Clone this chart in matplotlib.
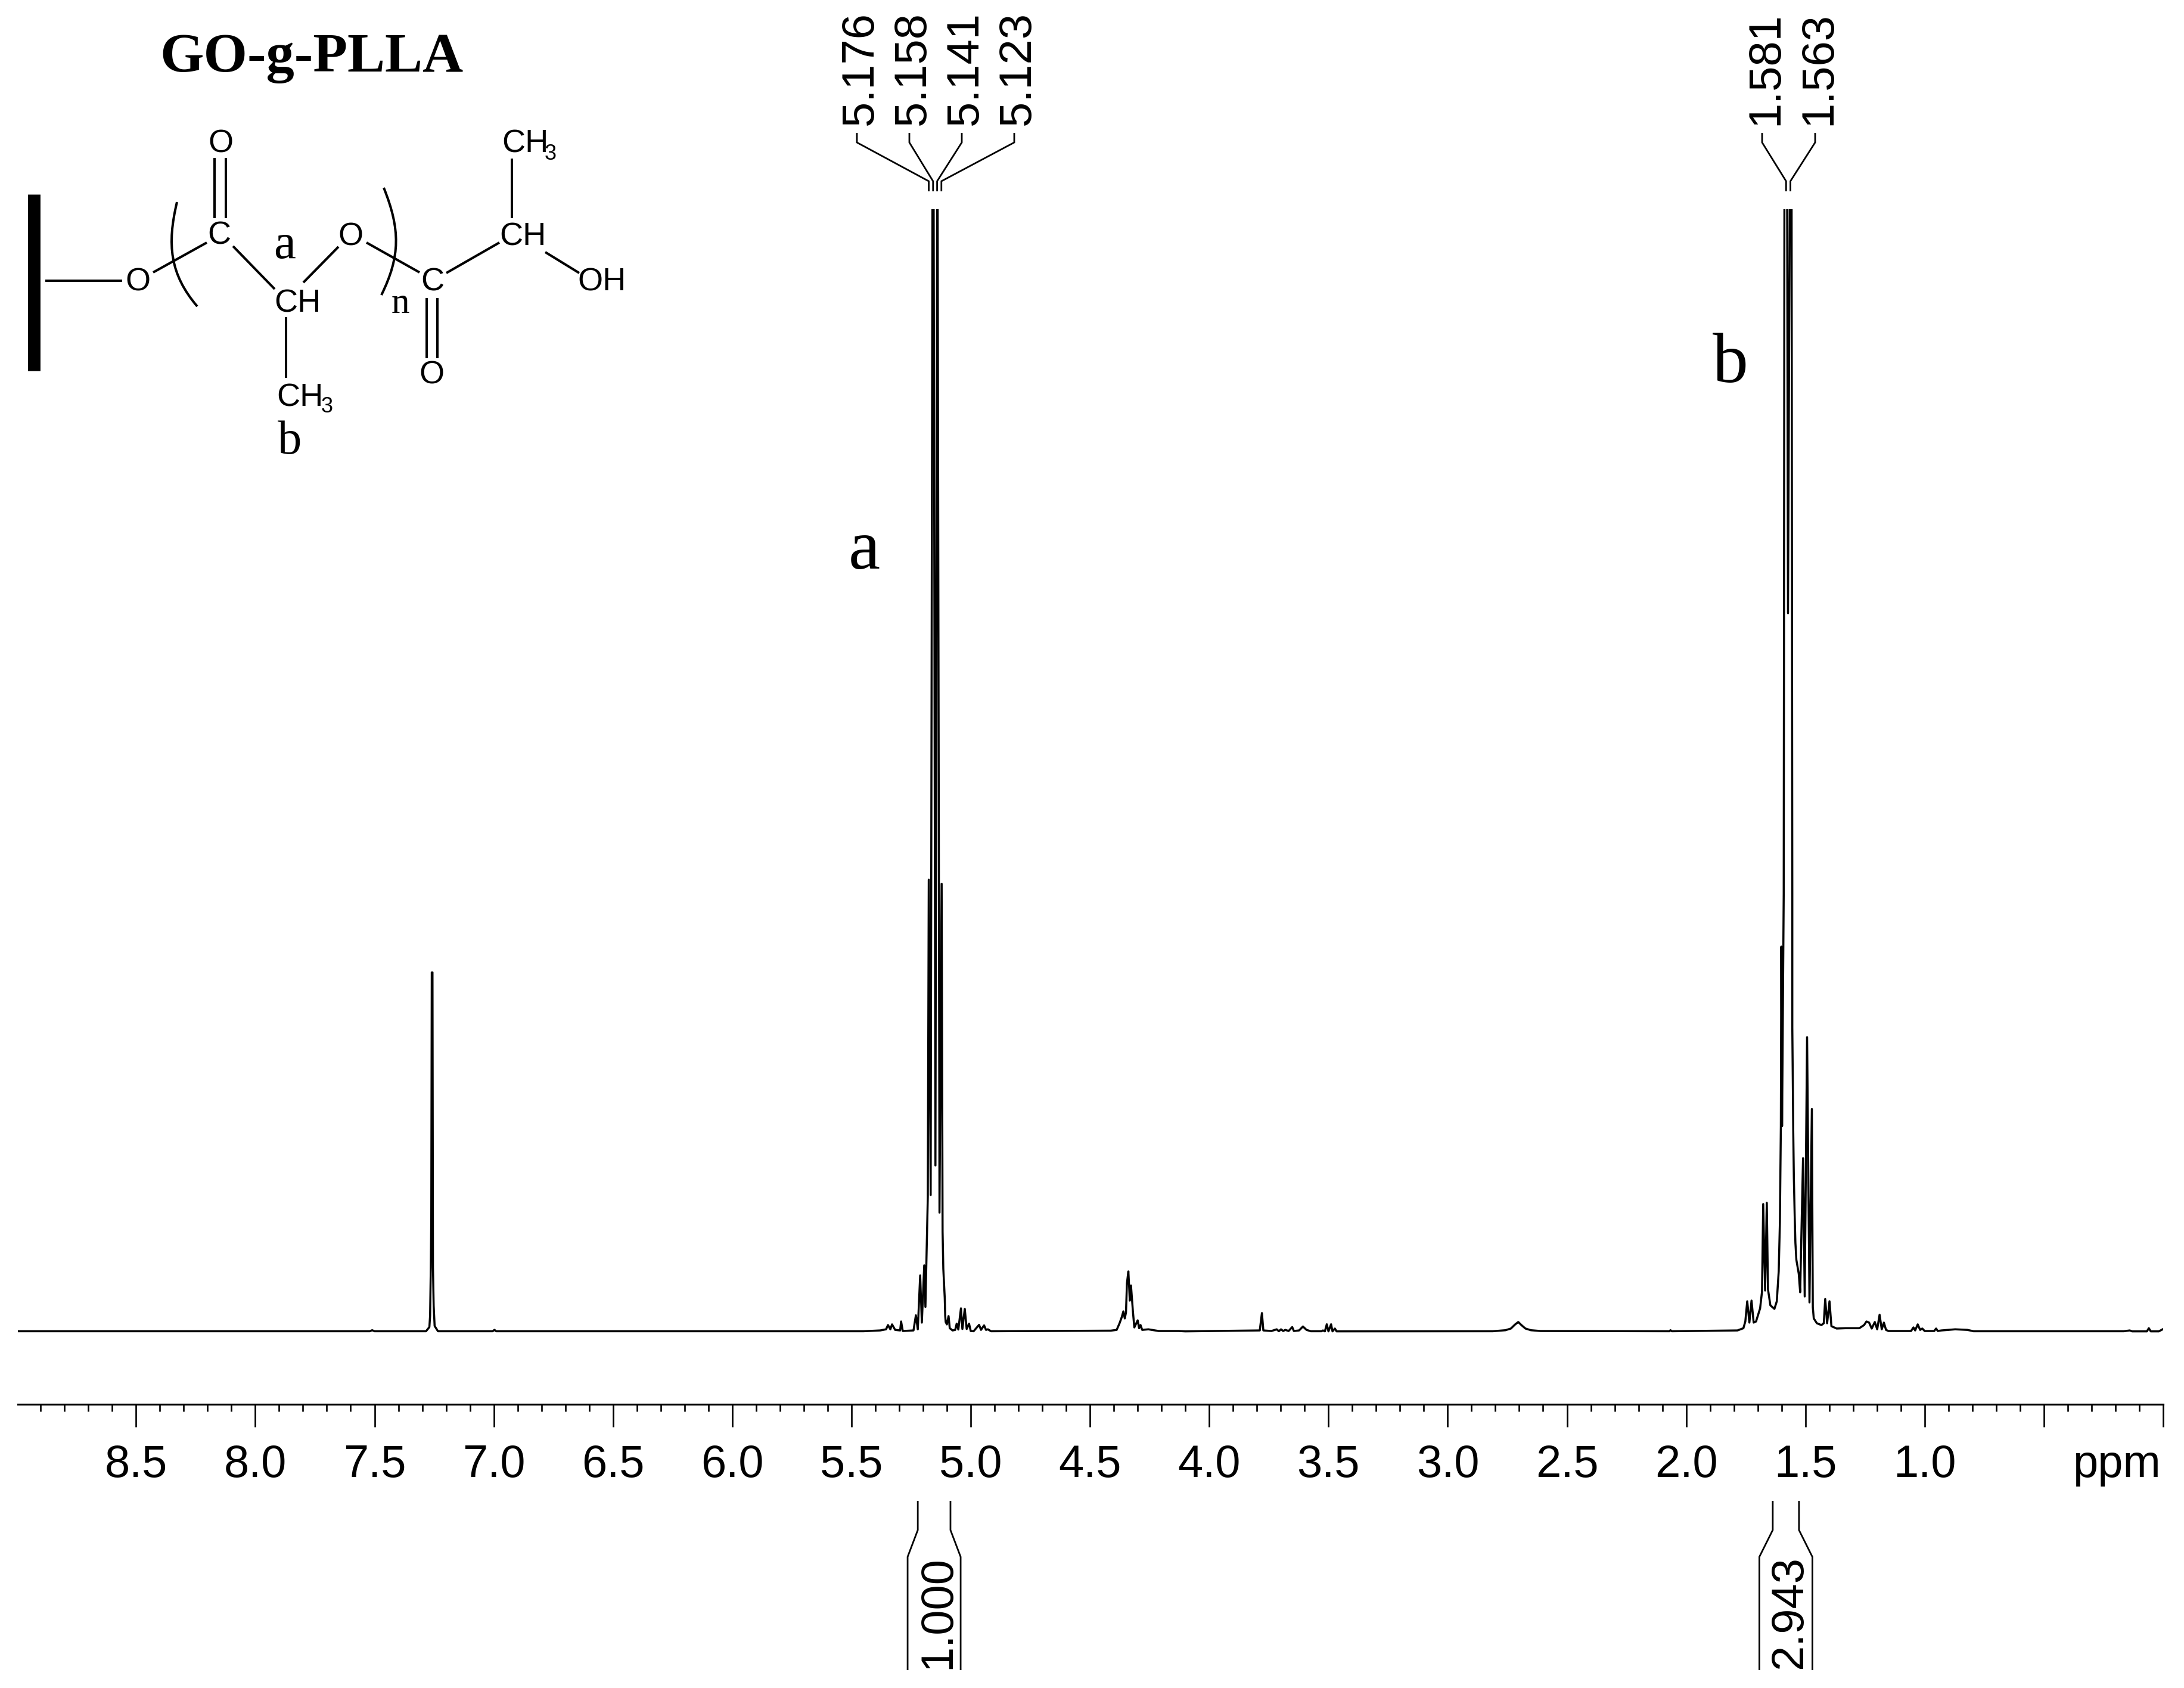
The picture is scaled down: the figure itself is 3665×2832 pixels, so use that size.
import matplotlib
matplotlib.use("Agg")
import matplotlib.pyplot as plt
import numpy as np
from matplotlib.patches import PathPatch
from matplotlib.path import Path
from matplotlib.ticker import MultipleLocator

W, H = 3666, 2832

# spectrum, (ppm, intensity), 1.0 = top of the plot
left_baseline = [(8.9955, 0.0003), (7.52, 0.0003), (7.51, 0.0012), (7.50, 0.0003), (7.284, 0.0003),
                 (7.270, 0.004), (7.267, 0.014), (7.264, 0.057), (7.262, 0.10), (7.260, 0.320),
                 (7.257, 0.320), (7.255, 0.057), (7.252, 0.023), (7.248, 0.005), (7.234, 0.0003),
                 (7.005, 0.0003), (6.997, 0.0015), (6.99, 0.0003), (5.45, 0.0003), (5.38, 0.001), (5.355, 0.002)]
methine = [(5.347, 0.0058), (5.337, 0.002), (5.330, 0.0064), (5.317, 0.0015), (5.296, 0.001),
           (5.292, 0.009), (5.285, 0.0005), (5.24, 0.001), (5.230, 0.0145), (5.222, 0.002),
           (5.212, 0.050), (5.205, 0.008), (5.195, 0.059), (5.190, 0.022), (5.185, 0.071),
           (5.180, 0.12), (5.178, 0.263), (5.176, 0.4026), (5.168, 0.1216), (5.158, 1.3),
           (5.148, 0.148), (5.140, 1.15), (5.131, 0.106), (5.122, 0.399), (5.120, 0.253),
           (5.118, 0.089), (5.115, 0.056), (5.109, 0.030), (5.107, 0.014), (5.105, 0.0085),
           (5.100, 0.0064), (5.093, 0.0138), (5.088, 0.003), (5.076, 0.001), (5.065, 0.0015),
           (5.059, 0.007), (5.052, 0.0018), (5.041, 0.0207), (5.035, 0.0023), (5.025, 0.0202),
           (5.017, 0.0023), (5.007, 0.007), (5.000, 0.0005), (4.988, 0.0003), (4.965, 0.006),
           (4.957, 0.0015), (4.944, 0.0055), (4.936, 0.0015), (4.928, 0.002), (4.915, 0.0003)]
end_group = [(4.413, 0.0008), (4.388, 0.0015), (4.376, 0.0074), (4.367, 0.0127), (4.360, 0.018),
             (4.354, 0.0117), (4.349, 0.017), (4.345, 0.043), (4.339, 0.0536), (4.333, 0.0276),
             (4.328, 0.041), (4.320, 0.018), (4.314, 0.0037), (4.300, 0.010), (4.294, 0.003),
             (4.288, 0.0058), (4.281, 0.0015), (4.255, 0.002), (4.212, 0.0005), (4.156, 0.0005),
             (4.128, 0.0005), (4.10, 0.0002)]
mid_region = [(3.788, 0.001), (3.779, 0.0165), (3.773, 0.001), (3.739, 0.0005), (3.717, 0.002),
              (3.708, 0.0003), (3.699, 0.002), (3.690, 0.0005), (3.681, 0.0015), (3.667, 0.0005),
              (3.652, 0.004), (3.645, 0.0005), (3.623, 0.001), (3.607, 0.0045), (3.592, 0.0015),
              (3.574, 0.0003), (3.529, 0.0003), (3.523, 0.001), (3.515, 0.0002), (3.507, 0.0065),
              (3.500, 0.0002), (3.489, 0.0065), (3.483, 0.0002), (3.473, 0.0027), (3.466, 0.0002),
              (2.811, 0.0003), (2.758, 0.0012), (2.735, 0.0027), (2.717, 0.0064), (2.704, 0.0085),
              (2.691, 0.0058), (2.674, 0.0027), (2.651, 0.0012), (2.611, 0.0005), (2.07, 0.0003),
              (2.066, 0.0012), (2.06, 0.0003)]
methyl = [(1.785, 0.001), (1.760, 0.003), (1.752, 0.009), (1.744, 0.027), (1.735, 0.008),
          (1.726, 0.0276), (1.717, 0.008), (1.707, 0.009), (1.690, 0.0207), (1.682, 0.0356),
          (1.677, 0.1136), (1.669, 0.0366), (1.662, 0.1147), (1.657, 0.0377), (1.647, 0.0234),
          (1.630, 0.0202), (1.620, 0.027), (1.612, 0.0536), (1.607, 0.0977), (1.603, 0.183),
          (1.601, 0.343), (1.598, 0.183), (1.591, 0.39), (1.588, 1.02), (1.5767, 1.02), (1.573, 0.64),
          (1.5655, 1.02), (1.558, 1.02), (1.555, 0.39), (1.555, 0.271), (1.551, 0.178), (1.5485, 0.137),
          (1.545, 0.103), (1.542, 0.079), (1.538, 0.064), (1.528, 0.0515), (1.522, 0.035),
          (1.510, 0.1545), (1.503, 0.0313), (1.493, 0.2623), (1.483, 0.026), (1.473, 0.1983),
          (1.469, 0.0217), (1.465, 0.0117), (1.452, 0.0074), (1.433, 0.0058), (1.423, 0.0074),
          (1.417, 0.029), (1.409, 0.0074), (1.399, 0.027), (1.391, 0.0048), (1.369, 0.0027),
          (1.332, 0.003), (1.274, 0.003), (1.254, 0.0058), (1.244, 0.009), (1.233, 0.008),
          (1.222, 0.0027), (1.209, 0.0085), (1.199, 0.002), (1.189, 0.015), (1.180, 0.002),
          (1.171, 0.008), (1.162, 0.0015), (1.152, 0.0005), (1.057, 0.0005), (1.047, 0.0037),
          (1.040, 0.001), (1.029, 0.0064), (1.019, 0.0015), (1.010, 0.0027), (1.000, 0.0005),
          (0.960, 0.0005), (0.952, 0.0027), (0.945, 0.0005), (0.930, 0.001), (0.872, 0.002),
          (0.821, 0.0015), (0.795, 0.0003), (0.165, 0.0003), (0.140, 0.001), (0.130, 0.0002),
          (0.068, 0.0002), (0.060, 0.003), (0.052, 0.0002), (0.018, 0.0002), (0.002, 0.002)]

major_ticks = [8.5, 8.0, 7.5, 7.0, 6.5, 6.0, 5.5, 5.0, 4.5, 4.0, 3.5, 3.0, 2.5, 2.0, 1.5, 1.0, 0.5, 0.0]
tick_labels = ["8.5", "8.0", "7.5", "7.0", "6.5", "6.0", "5.5", "5.0", "4.5", "4.0", "3.5", "3.0",
               "2.5", "2.0", "1.5", "1.0", "", ""]

# peak picks and integrals
peaks_a = [5.176, 5.158, 5.141, 5.123]
peaks_b = [1.581, 1.563]
integrals = [(5.222, 5.085, "1.000"), (1.637, 1.527, "2.943")]

SANS = "Liberation Sans"
SERIF = "Liberation Serif"
TICK_SIZE = 54.6

X_RIGHT, PX_PER_PPM = 3630, 400.2
Y_BASE, Y_TOP, Y_AXIS = 2234, 351, 2356


def ppm_x(ppm):
    return X_RIGHT - PX_PER_PPM * ppm


fig = plt.figure(figsize=(W / 100, H / 100), dpi=100, facecolor="white")

# spectrum with its ppm axis
ax = fig.add_axes([30 / W, 1 - Y_AXIS / H, (X_RIGHT - 30) / W, (Y_AXIS - Y_TOP) / H])
trace = np.array(left_baseline + methine + end_group + mid_region + methyl)
ax.plot(trace[:, 0], trace[:, 1], color="black", lw=2.5, solid_joinstyle="round")
ax.set_xlim((X_RIGHT - 30) / PX_PER_PPM, 0)
ax.set_ylim(-(Y_AXIS - Y_BASE) / (Y_BASE - Y_TOP), 1)
ax.patch.set_alpha(0)
for side in ["top", "left", "right"]:
    ax.spines[side].set_visible(False)
ax.spines["bottom"].set_linewidth(2.3)
ax.yaxis.set_visible(False)
ax.set_xticks(major_ticks)
ax.set_xticklabels(tick_labels, fontsize=TICK_SIZE, family=SANS)
ax.xaxis.set_minor_locator(MultipleLocator(0.1))
ax.tick_params(axis="x", which="major", direction="out", length=27.4, width=1.9, pad=21)
ax.tick_params(axis="x", which="minor", direction="out", length=8.6, width=1.9)

# everything else is placed in picture pixels
over = fig.add_axes([0, 0, 1, 1])
over.set_xlim(0, W)
over.set_ylim(H, 0)
over.axis("off")


def line(xs, ys, lw=2.0):
    over.plot(xs, ys, color="black", lw=lw, solid_capstyle="butt", solid_joinstyle="miter")


def label(x, y, s, size=39, family=SANS, **kw):
    kw.setdefault("ha", "center")
    kw.setdefault("va", "center")
    over.text(x, y, s, fontsize=size, family=family, color="black", **kw)


over.text(3626, 2478, "ppm", fontsize=TICK_SIZE, family=SANS, ha="right", va="baseline")

# peak pick labels and leaders
for picks, label_x in [(peaks_a, [1438, 1526, 1614, 1702]), (peaks_b, [2957, 3046])]:
    for ppm, lx in zip(picks, label_x):
        over.text(lx + 7, 210, f"{ppm:.3f}", fontsize=TICK_SIZE, family=SANS, rotation=90,
                  ha="center", va="bottom")
        line([lx, lx, ppm_x(ppm), ppm_x(ppm)], [223, 239, 304, 321])

# integrals
for start, end, text in integrals:
    x0, x1 = ppm_x(start), ppm_x(end)
    mid = (x0 + x1) / 2
    line([x0, x0, mid - 44.5, mid - 44.5], [2518, 2567, 2612, 2802])
    line([x1, x1, mid + 44.5, mid + 44.5], [2518, 2567, 2612, 2802])
    over.text(mid + 7, 2705, text, fontsize=TICK_SIZE, family=SANS, rotation=90, ha="center", va="center")

# big assignment letters
label(1450, 925, "a", size=86, family=SERIF)
label(2904, 612, "b", size=86, family=SERIF)

# structure drawing
label(523, 97, "GO-g-PLLA", size=68, family=SERIF, fontweight="bold")
line([57.5, 57.5], [326, 622], lw=15)
line([76, 205.5], [471, 471], lw=2.9)
for xs, ys in [([257, 347], [457, 407]), ([391, 461], [413, 485]), ([509, 568], [474, 414]),
               ([615, 704], [407, 457]), ([749, 838], [458, 407]), ([915, 972], [423, 458]),
               ([859, 859], [266, 366]), ([480.5, 480.5], [532, 634]),
               ([360, 360], [265, 366]), ([379.5, 379.5], [265, 366]),
               ([716, 716], [500, 601]), ([734.5, 734.5], [500, 601])]:
    line(xs, ys, lw=2.9)
codes = [Path.MOVETO, Path.CURVE4, Path.CURVE4, Path.CURVE4]
for verts in [[(297, 339), (280, 410), (285, 460), (331, 514)],
              [(644, 315), (672, 385), (672, 430), (640, 495)]]:
    over.add_patch(PathPatch(Path(verts, codes), fill=False, edgecolor="black", lw=2.9))

for x, y, s in [(231, 474, "O"), (368, 396, "C"), (370, 241, "O"), (588, 397, "O"),
                (499, 510, "CH"), (726, 474, "C"), (724, 630, "O"), (877, 397, "CH"),
                (1010, 474, "OH")]:
    label(x, y, s)
label(842, 242, "CH", ha="left")
label(924, 259, "3", size=26)
label(464, 668, "CH", ha="left")
label(549, 683, "3", size=26)
label(478, 413, "a", size=60, family=SERIF)
label(672, 510, "n", size=44, family=SERIF)
label(486, 742, "b", size=58, family=SERIF)

fig.savefig("out.png", dpi=100, facecolor="white")
